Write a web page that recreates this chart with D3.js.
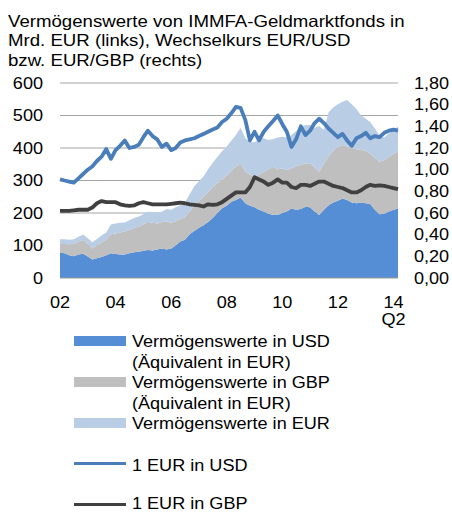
<!DOCTYPE html>
<html><head><meta charset="utf-8">
<script src="https://cdn.jsdelivr.net/npm/d3@7"></script>
<style>body{margin:0;background:#fff}svg{display:block}text{font-family:"Liberation Sans",Arial,sans-serif;fill:#000}</style>
</head><body>
<svg id="c" width="452" height="513"></svg>
<script>
const dates = [
"2002-01","2002-03","2002-05","2002-07","2002-09","2002-11",
"2003-01","2003-03","2003-05","2003-07","2003-09","2003-11",
"2004-01","2004-03","2004-05","2004-07","2004-09","2004-11",
"2005-01","2005-03","2005-05","2005-07","2005-09","2005-11",
"2006-01","2006-03","2006-05","2006-07","2006-09","2006-11",
"2007-01","2007-03","2007-05","2007-07","2007-09","2007-11",
"2008-01","2008-03","2008-05","2008-07","2008-09","2008-11",
"2009-01","2009-03","2009-05","2009-07","2009-09","2009-11",
"2010-01","2010-03","2010-05","2010-07","2010-09","2010-11",
"2011-01","2011-03","2011-05","2011-07","2011-09","2011-11",
"2012-01","2012-03","2012-05","2012-07","2012-09","2012-11",
"2013-01","2013-03","2013-05","2013-07","2013-09","2013-11",
"2014-01","2014-03"];
// assets in bn EUR
const assetsUSD = [
78,76,70,67,72,75, 66,57,61,65,70,76, 74,72,72,76,79,81, 84,86,85,88,91,88,
91,100,112,118,135,145, 155,162,172,185,200,215, 222,235,240,248,230,222,
218,210,205,198,195,194, 200,205,214,210,212,219, 218,205,194,210,224,232,
238,245,240,232,230,232, 230,228,210,196,198,205, 210,214];
const assetsGBP = [
27,29,34,38,40,42, 39,34,39,45,48,59, 63,68,71,72,76,77, 81,86,85,80,81,87,
79,75,70,68,70,77, 83,88,93,95,92,88, 93,95,102,104,98,96,
94,108,121,136,147,140, 138,127,124,135,136,133, 135,135,133,142,151,160,
164,164,165,167,166,162, 162,154,160,162,164,167, 172,175];
const assetsEUR = [
14,14,14,14,15,17, 17,19,20,21,22,30, 31,30,28,30,30,31, 31,32,33,34,32,37,
40,43,42,46,53,60, 60,62,70,75,80,87, 90,92,98,110,102,101,
106,110,104,91,86,98, 97,100,102,107,118,118, 118,122,141,104,135,133,
133,133,143,136,124,106, 98,98,90,80,70,73, 73,77];
const eurUsd = [
0.91,0.90,0.89,0.88,0.92,0.96, 1.00,1.03,1.08,1.12,1.19,1.10, 1.18,1.22,1.27,1.20,1.21,1.23,
1.30,1.36,1.31,1.28,1.21,1.24, 1.18,1.20,1.25,1.27,1.28,1.29, 1.31,1.33,1.35,1.37,1.39,1.44,
1.47,1.52,1.58,1.57,1.46,1.27, 1.35,1.27,1.35,1.40,1.45,1.50, 1.42,1.35,1.21,1.28,1.40,1.32,
1.36,1.43,1.47,1.43,1.38,1.34, 1.30,1.33,1.27,1.22,1.29,1.31, 1.34,1.29,1.31,1.30,1.34,1.36,
1.37,1.36];
const eurGbp = [
0.62,0.62,0.62,0.625,0.63,0.63, 0.63,0.65,0.69,0.71,0.70,0.70, 0.70,0.68,0.67,0.665,0.67,0.69,
0.70,0.69,0.68,0.68,0.68,0.68, 0.685,0.69,0.695,0.69,0.68,0.675, 0.67,0.66,0.68,0.675,0.68,0.70,
0.73,0.76,0.79,0.79,0.79,0.84, 0.93,0.91,0.89,0.86,0.88,0.91, 0.88,0.88,0.84,0.83,0.86,0.86,
0.85,0.87,0.89,0.89,0.87,0.85, 0.84,0.83,0.81,0.79,0.79,0.81, 0.84,0.86,0.85,0.855,0.85,0.84,
0.83,0.82];
const leftTicks = [0,100,200,300,400,500,600];
const rightTicks = [0,0.2,0.4,0.6,0.8,1.0,1.2,1.4,1.6,1.8];
const xTickYears = ["2002","2004","2006","2008","2010","2012","2014"];
const xTickLabels = ["02","04","06","08","10","12","14"];
const titleLines = ["Vermögenswerte von IMMFA-Geldmarktfonds in","Mrd. EUR (links), Wechselkurs EUR/USD","bzw. EUR/GBP (rechts)"];
const areaKeys = ["usd","gbp","eur"];
const areaLegend = [["Vermögenswerte in USD","(Äquivalent in EUR)"],["Vermögenswerte in GBP","(Äquivalent in EUR)"],["Vermögenswerte in EUR"]];
const lineLegend = ["1 EUR in USD","1 EUR in GBP"];

const C = {usd:"#558ED5", gbp:"#BFBFBF", eur:"#B9CDE5", lusd:"#4A7EBB", lgbp:"#404040", grid:"#A6A6A6"};
const SX = 1.13;
const svg = d3.select("#c");
const parse = d3.timeParse("%Y-%m");
const table = dates.map((d,i)=>({date:parse(d), usd:assetsUSD[i], gbp:assetsGBP[i], eur:assetsEUR[i], eu:eurUsd[i], eg:eurGbp[i]}));

const L=60, R=398, T=83, B=278;
const x = d3.scaleTime().domain(d3.extent(table,d=>d.date)).range([L,R]);
const yL = d3.scaleLinear().domain([0,600]).range([B,T]);
const yR = d3.scaleLinear().domain([0,1.8]).range([B,T]);

function txt(g, px, py, s, anchor, fs){
  return g.append("text").attr("transform",`translate(${px},${py}) scale(${SX},1)`)
    .attr("text-anchor",anchor||"start").style("font-size",(fs||16)+"px").text(s);
}
// title
titleLines.forEach((s,i)=>txt(svg,8,26.5+i*19.8,s,"start",16.5));

// gridlines
svg.append("g").selectAll("line").data(leftTicks.filter(v=>v>0)).join("line")
  .attr("x1",L).attr("x2",R).attr("y1",d=>yL(d)).attr("y2",d=>yL(d))
  .attr("stroke",C.grid).attr("stroke-width",1.2);

// stacked areas
const stack = d3.stack().keys(areaKeys)(table);
const area = d3.area().x(d=>x(d.data.date)).y0(d=>yL(d[0])).y1(d=>yL(d[1]));
svg.append("g").selectAll("path").data(stack).join("path")
  .attr("d",area).attr("fill",d=>C[d.key]);

// bottom axis line
svg.append("line").attr("x1",L).attr("x2",R).attr("y1",B).attr("y2",B).attr("stroke","#999").attr("stroke-width",1.2);

// lines
const lineU = d3.line().x(d=>x(d.date)).y(d=>yR(d.eu));
const lineG = d3.line().x(d=>x(d.date)).y(d=>yR(d.eg));
svg.append("path").datum(table).attr("d",lineG).attr("fill","none").attr("stroke",C.lgbp).attr("stroke-width",3.8).attr("stroke-linejoin","round");
svg.append("path").datum(table).attr("d",lineU).attr("fill","none").attr("stroke",C.lusd).attr("stroke-width",3.8).attr("stroke-linejoin","round");

// axes labels
const fmtR = v=>d3.format(".2f")(v).replace(".",",");
leftTicks.forEach(v=>txt(svg,43,yL(v)+5.7,String(v),"end"));
rightTicks.forEach(v=>txt(svg,414,yR(v)+5.7,fmtR(v),"start"));
xTickYears.forEach((yr,i)=>txt(svg,x(parse(yr+"-01")),308,xTickLabels[i],"middle"));
txt(svg,x(parse("2014-01")),325,"Q2","middle");

// legend
const baseY=[347,388,429];
areaKeys.forEach((k,i)=>{
  svg.append("rect").attr("x",74).attr("y",baseY[i]-11).attr("width",52).attr("height",10).attr("fill",C[k]);
  areaLegend[i].forEach((s,j)=>txt(svg,132,baseY[i]+j*20.5,s,"start"));
});
[[C.lusd,463.5,470.5],[C.lgbp,504.5,509]].forEach((a,i)=>{
  svg.append("line").attr("x1",74).attr("x2",126).attr("y1",a[1]).attr("y2",a[1]).attr("stroke",a[0]).attr("stroke-width",3);
  txt(svg,132,a[2],lineLegend[i],"start");
});
</script>
</body></html>
